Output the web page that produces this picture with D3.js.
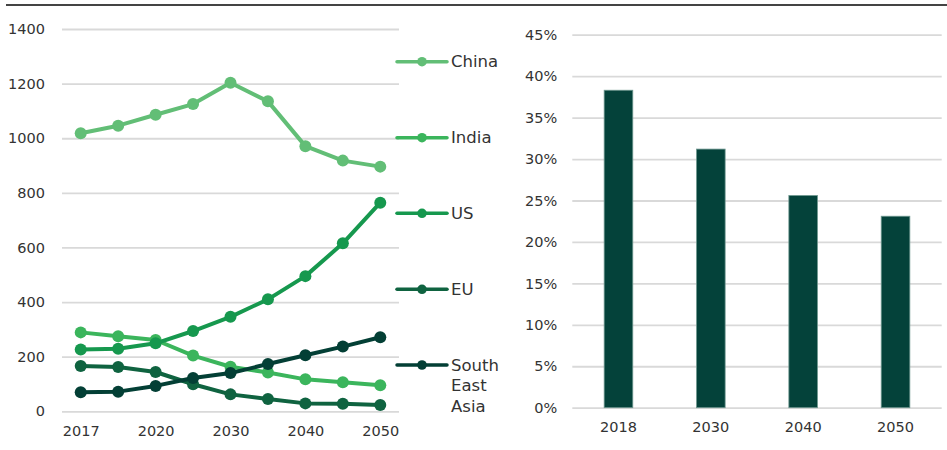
<!DOCTYPE html>
<html>
<head>
<meta charset="utf-8">
<script src="https://cdn.jsdelivr.net/npm/d3@7"></script>
<style>
  html, body { margin: 0; padding: 0; background: #fff; }
  svg { display: block; font-family: "DejaVu Sans", Verdana, sans-serif; }
</style>
</head>
<body>
<svg id="chart" width="947" height="450"></svg>
<script>
// Left panel: projections by region
const years = ["2017", "2018", "2020", "2025", "2030", "2035", "2040", "2045", "2050"];
const shownYears = ["2017", "2020", "2030", "2040", "2050"];
const seriesNames = ["China", "India", "US", "EU", "South East Asia"];
const china = [1018, 1046, 1086, 1125, 1203, 1135, 971, 918, 896];
const india = [289, 275, 261, 204, 163, 142, 117, 106, 95];
const us = [226, 229, 249, 294, 346, 410, 495, 615, 764];
const eu = [166, 162, 144, 99, 62, 45, 29, 28, 23];
const sea = [70, 72, 93, 122, 140, 173, 205, 237, 271];
const seriesColors = ["#62be76", "#3bb55c", "#16984e", "#0f6340", "#033f35"];
const yTicksLeft = [0, 200, 400, 600, 800, 1000, 1200, 1400];

// Right panel: share by year
const barYears = ["2018", "2030", "2040", "2050"];
const barShares = [0.383, 0.312, 0.256, 0.231];
const yTicksRight = [0, 0.05, 0.10, 0.15, 0.20, 0.25, 0.30, 0.35, 0.40, 0.45];

const svg = d3.select("#chart");
const textColor = "#333333";
const gridColor = "#d9d9d9";
const fontFamily = "DejaVu Sans, Verdana, sans-serif";

// top rule
svg.append("line")
  .attr("x1", 6).attr("x2", 947).attr("y1", 5).attr("y2", 5)
  .attr("stroke", "#444444").attr("stroke-width", 2.2);

// ---------- left line chart ----------
const L = { left: 62, right: 399, top: 29, bottom: 411.3 };
const x = d3.scalePoint().domain(years).range([L.left, L.right]).padding(0.5);
const y = d3.scaleLinear().domain([0, 1400]).range([L.bottom, L.top]);

const gL = svg.append("g");
gL.append("g")
  .attr("transform", `translate(${L.left},0)`)
  .call(d3.axisLeft(y).tickValues(yTicksLeft).tickFormat(d3.format("d"))
    .tickSize(-(L.right - L.left)).tickPadding(17))
  .call(g => g.select(".domain").remove())
  .call(g => g.selectAll(".tick line").attr("stroke", gridColor).attr("stroke-width", 1.8))
  .call(g => g.selectAll(".tick text").attr("fill", textColor).style("font-size", "14.5px")
    .style("font-family", fontFamily));

gL.append("g")
  .attr("transform", `translate(0,${L.bottom})`)
  .call(d3.axisBottom(x).tickValues(shownYears).tickSize(0).tickPadding(14))
  .call(g => g.select(".domain").remove())
  .call(g => g.selectAll(".tick text").attr("fill", textColor).style("font-size", "14.5px")
    .style("font-family", fontFamily));

const allSeries = [china, india, us, eu, sea];
const line = d3.line().x((d, i) => x(years[i])).y(d => y(d));

// each series: a thick line with round markers, later series drawn over earlier ones
allSeries.forEach((vals, k) => {
  const g = gL.append("g");
  g.append("path")
    .datum(vals)
    .attr("d", line)
    .attr("fill", "none")
    .attr("stroke", seriesColors[k])
    .attr("stroke-width", 4)
    .attr("stroke-linejoin", "round");
  g.selectAll("circle")
    .data(vals)
    .join("circle")
    .attr("cx", (d, i) => x(years[i]))
    .attr("cy", d => y(d))
    .attr("r", 6)
    .attr("fill", seriesColors[k]);
});

// legend
const legendY = [61.7, 137.7, 213.3, 289.3, 365];
const leg = svg.append("g");
seriesNames.forEach((name, k) => {
  const gy = legendY[k];
  leg.append("line")
    .attr("x1", 397).attr("x2", 447).attr("y1", gy).attr("y2", gy)
    .attr("stroke", seriesColors[k]).attr("stroke-width", 3.5).attr("stroke-linecap", "round");
  leg.append("circle")
    .attr("cx", 422).attr("cy", gy).attr("r", 4.8).attr("fill", seriesColors[k]);
  const words = name === "South East Asia" ? ["South", "East", "Asia"] : [name];
  const t = leg.append("text")
    .attr("x", 451).attr("y", gy)
    .attr("fill", textColor)
    .style("font-size", "16.5px");
  words.forEach((w, j) => {
    t.append("tspan")
      .attr("x", 451)
      .attr("y", gy + j * 20.5)
      .attr("dy", "0.35em")
      .text(w);
  });
});

// ---------- right bar chart ----------
const R = { left: 572.3, right: 941.7, top: 34.7, bottom: 407.7 };
const xb = d3.scaleBand().domain(barYears).range([R.left, R.right])
  .paddingInner(0.69).paddingOuter(0.345);
const yb = d3.scaleLinear().domain([0, 0.45]).range([R.bottom, R.top]);

const gR = svg.append("g");
gR.append("g")
  .attr("transform", `translate(${R.left},0)`)
  .call(d3.axisLeft(yb).tickValues(yTicksRight).tickFormat(d3.format(".0%"))
    .tickSize(-(R.right - R.left)).tickPadding(15))
  .call(g => g.select(".domain").remove())
  .call(g => g.selectAll(".tick line").attr("stroke", gridColor).attr("stroke-width", 1.8))
  .call(g => g.selectAll(".tick text").attr("fill", textColor).style("font-size", "14.5px")
    .style("font-family", fontFamily));

gR.selectAll("rect.bar")
  .data(barShares)
  .join("rect")
  .attr("class", "bar")
  .attr("x", (d, i) => xb(barYears[i]))
  .attr("width", xb.bandwidth())
  .attr("y", d => yb(d))
  .attr("height", d => R.bottom - yb(d))
  .attr("fill", "#04423a")
  .attr("stroke", "#6f9890")
  .attr("stroke-width", 0.8);

gR.append("g")
  .attr("transform", `translate(0,${R.bottom})`)
  .call(d3.axisBottom(xb).tickSize(0).tickPadding(14))
  .call(g => g.select(".domain").remove())
  .call(g => g.selectAll(".tick text").attr("fill", textColor).style("font-size", "14.5px")
    .style("font-family", fontFamily));
</script>
</body>
</html>
